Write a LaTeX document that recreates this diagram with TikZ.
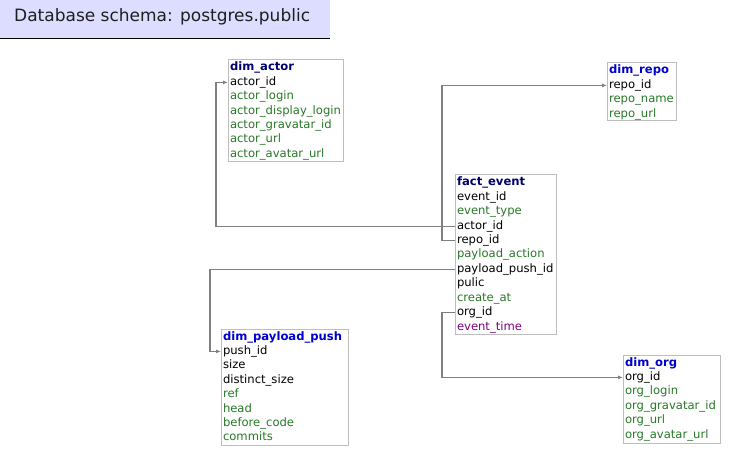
\documentclass[tikz,border=0pt]{standalone}
\usepackage{fontspec}
\setmainfont{DejaVu Sans}
\usetikzlibrary{arrows.meta}
\definecolor{hdrfill}{RGB}{221,221,255}
\definecolor{k}{RGB}{0,0,0}
\definecolor{g}{RGB}{40,120,40}
\definecolor{p}{RGB}{128,0,128}
\definecolor{navy}{RGB}{0,0,110}
\definecolor{blu}{RGB}{0,0,205}
\definecolor{bordergray}{RGB}{190,190,190}
\definecolor{conngray}{RGB}{128,128,128}
\tikzset{
  tbox/.style={draw=bordergray, line width=1pt, fill=white, inner sep=0pt, outer sep=0pt},
  rowtxt/.style={anchor=west, inner sep=0pt, outer sep=0pt, font=\fontsize{11.6}{13}\selectfont, text height=8.5pt, text depth=2.5pt},
  conn/.style={draw=conngray, line width=1.2pt, -{Latex[length=5pt,width=4pt]}},
}
\newcommand\dbtable[8]{%
  \node[tbox, minimum width=#4pt, minimum height=#5pt, anchor=north west] (#1) at (#2,#3) {};
  \node[rowtxt, text=#6, font=\fontsize{11.6}{13}\selectfont\bfseries] (#1-t) at (#2+2,#3+8) {#7};
  \foreach \lbl/\col [count=\i] in {#8} {
    \node[rowtxt, text=\col] (#1-\i) at (#2+2,{#3+8+14.4*\i}) {\lbl};
  }
}
\begin{document}
\begin{tikzpicture}[x=1pt,y=-1pt]
\useasboundingbox (0,0) rectangle (736,465);
% header
\fill[hdrfill] (0,0) rectangle (330,39);
\draw[black, line width=1pt] (0,39) -- (330,39);
\node[anchor=west, inner sep=0pt, font=\fontsize{17}{19}\selectfont, text={rgb,255:red,30;green,30;blue,30}] (hdr) at (14,17) {Database schema: postgres.public};

\dbtable{da}{228}{60}{115}{102}{navy}{dim\_actor}{actor\_id/k, actor\_login/g, actor\_display\_login/g, actor\_gravatar\_id/g, actor\_url/g, actor\_avatar\_url/g}
\dbtable{fe}{455}{175}{101}{159}{navy}{fact\_event}{event\_id/k, event\_type/g, actor\_id/k, repo\_id/k, payload\_action/g, payload\_push\_id/k, pulic/k, create\_at/g, org\_id/k, event\_time/p}
\dbtable{dr}{607}{63}{69}{58}{blu}{dim\_repo}{repo\_id/k, repo\_name/g, repo\_url/g}
\dbtable{dp}{221}{329}{127}{116}{blu}{dim\_payload\_push}{push\_id/k, size/k, distinct\_size/k, ref/g, head/g, before\_code/g, commits/g}
\dbtable{do}{623}{355}{97}{88}{blu}{dim\_org}{org\_id/k, org\_login/g, org\_gravatar\_id/g, org\_url/g, org\_avatar\_url/g}

% connectors
\coordinate (c1) at (216,0);
\coordinate (c2) at (442,0);
\coordinate (c3) at (210,0);
\draw[conn] ([xshift=-2pt]fe-3.west) -- (fe-3.west -| c1) |- ([xshift=-2pt]da-1.west);
\draw[conn] ([xshift=-2pt]fe-4.west) -- (fe-4.west -| c2) |- ([xshift=-2pt]dr-1.west);
\draw[conn] ([xshift=-2pt]fe-6.west) -- (fe-6.west -| c3) |- ([xshift=-2pt]dp-1.west);
\draw[conn] ([xshift=-2pt]fe-9.west) -- (fe-9.west -| c2) |- ([xshift=-2pt]do-1.west);
\end{tikzpicture}
\end{document}
